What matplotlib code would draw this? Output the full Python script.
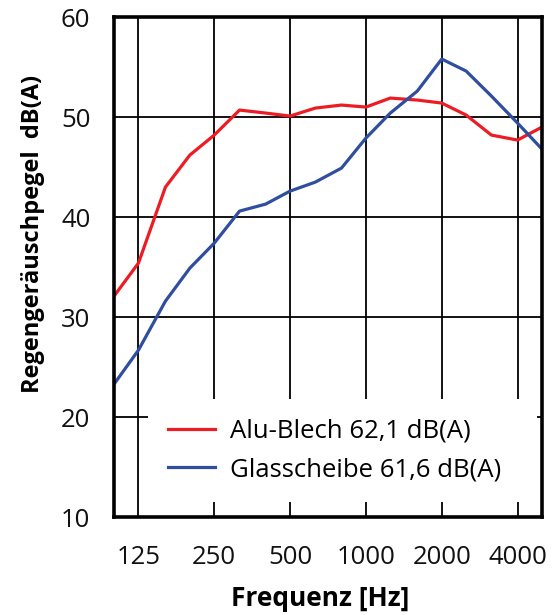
#!/usr/bin/env python3
"""Rain noise level per third-octave band: aluminium sheet vs glass pane."""

import matplotlib

matplotlib.use("Agg")
import matplotlib.pyplot as plt

# third-octave band centre frequencies [Hz]
FREQS = [100, 125, 160, 200, 250, 315, 400, 500, 630, 800,
         1000, 1250, 1600, 2000, 2500, 3150, 4000, 5000]
ALU = [32.1, 35.4, 43.0, 46.2, 48.2, 50.7, 50.4, 50.1, 50.9, 51.2,
       51.0, 51.9, 51.7, 51.4, 50.2, 48.2, 47.7, 49.0]
GLAS = [23.3, 26.7, 31.6, 34.9, 37.4, 40.6, 41.3, 42.6, 43.5, 44.9,
        47.9, 50.4, 52.6, 55.8, 54.6, 52.1, 49.4, 46.8]
XTICKS = [125, 250, 500, 1000, 2000, 4000]
YTICKS = [10, 20, 30, 40, 50, 60]
LABEL_ALU = "Alu-Blech 62,1 dB(A)"
LABEL_GLAS = "Glasscheibe 61,6 dB(A)"

RED = "#ED1C24"
BLUE = "#2F4E9F"

plt.rcParams["font.family"] = ["Open Sans", "DejaVu Sans"]

fig = plt.figure(figsize=(5.57, 6.15), dpi=100)
ax = fig.add_axes([0.2047, 0.159, 0.7683, 0.8133])

ax.plot(FREQS, ALU, color=RED, linewidth=2.3, label=LABEL_ALU, solid_joinstyle="round")
ax.plot(FREQS, GLAS, color=BLUE, linewidth=2.3, label=LABEL_GLAS, solid_joinstyle="round")

ax.set_xscale("log")
ax.set_xlim(100, 5000)
ax.set_ylim(10, 60)
ax.set_xticks(XTICKS, [str(f) for f in XTICKS])
ax.xaxis.set_minor_locator(matplotlib.ticker.NullLocator())
ax.set_yticks(YTICKS)
ax.tick_params(axis="both", length=0, labelsize=18.5, colors="#111111")
ax.tick_params(axis="x", pad=20)
ax.tick_params(axis="y", pad=17)
ax.grid(True, color="black", linewidth=1.3)
ax.set_axisbelow(True)
for sp in ax.spines.values():
    sp.set_linewidth(2.6)
    sp.set_zorder(6)

ax.set_xlabel("Frequenz [Hz]", fontsize=19, fontweight="bold")
ax.xaxis.set_label_coords(0.481, -0.136)
ax.set_ylabel("Regengeräuschpegel  dB(A)", fontsize=17, fontweight="bold")
ax.yaxis.set_label_coords(-0.162, 0.566)

leg = ax.legend(
    loc="lower left",
    bbox_to_anchor=(0.079, 0.03, 0.909, 0.208),
    mode="expand",
    borderaxespad=0.0,
    fontsize=18.5,
    frameon=True,
    fancybox=False,
    facecolor="white",
    edgecolor="white",
    framealpha=1.0,
    borderpad=0.77,
    labelspacing=0.54,
    handlelength=1.83,
    handletextpad=0.58,
)
leg.get_frame().set_linewidth(0)

fig.savefig("out.png", dpi=100)
